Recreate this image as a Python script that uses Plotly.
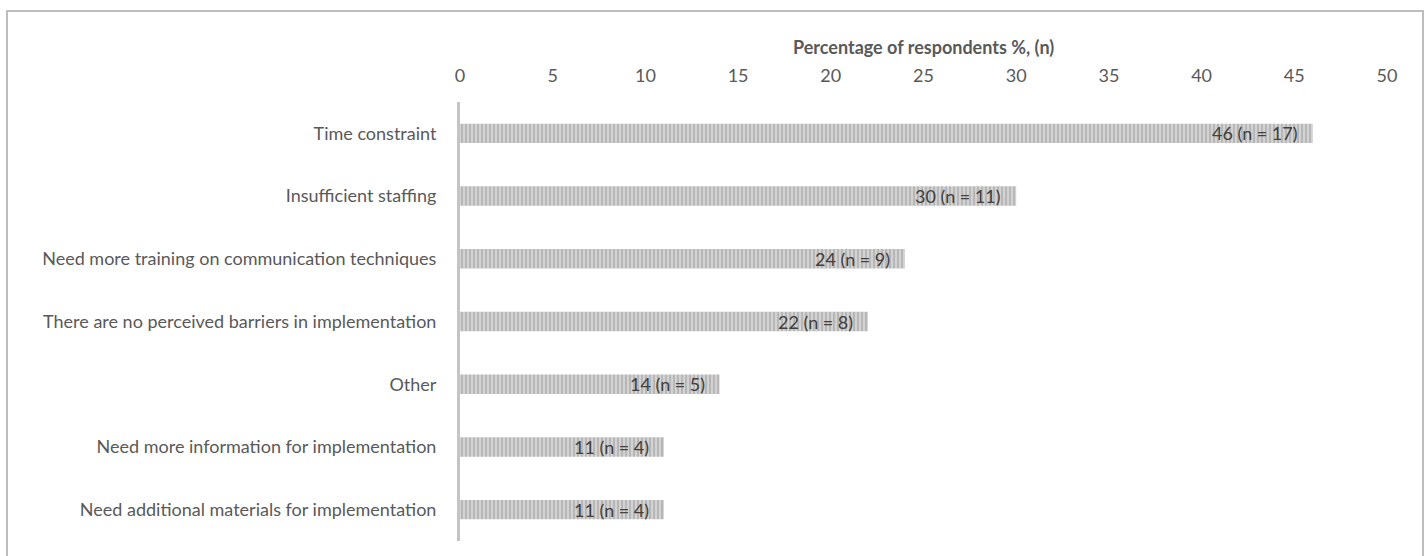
import plotly.graph_objects as go

categories = [
    "Time constraint",
    "Insufficient staffing",
    "Need more training on communication techniques",
    "There are no perceived barriers in implementation",
    "Other",
    "Need more information for implementation",
    "Need additional materials for implementation",
]
percent = [46, 30, 24, 22, 14, 11, 11]
counts = [17, 11, 9, 8, 5, 4, 4]
x_ticks = [0, 5, 10, 15, 20, 25, 30, 35, 40, 45, 50]

FONT = "Lato"
TXT = "#595959"
FS = 18

W, H = 1428, 556
L, R, T, B = 460, W - 1387, 102, H - 541

fig = go.Figure()
fig.add_trace(go.Bar(
    y=categories, x=percent, orientation="h", width=0.31,
    marker=dict(color="#d2d2d2", line=dict(width=0),
                pattern=dict(shape="|", size=4, solidity=0.4, fgcolor="#8e8e8e")),
    hoverinfo="skip",
))

annotations = []
for c, p, n in zip(categories, percent, counts):
    annotations.append(dict(
        x=p, y=c, xref="x", yref="y", text=f"{p} (n = {n})",
        showarrow=False, xanchor="right", xshift=-13,
        font=dict(family=FONT, size=FS, color="#404040"),
    ))
annotations.append(dict(
    x=0.5, y=(541 - 47) / (541 - 102), xref="paper", yref="paper",
    text="<b>Percentage of respondents %, (n)</b>", showarrow=False,
    xanchor="center", yanchor="middle",
    font=dict(family=FONT, size=FS, color=TXT),
))

pw = 1387 - 460
ph = 541 - 102
fig.add_shape(type="rect", xref="paper", yref="paper",
              x0=(7 - 460) / pw, x1=(1423 - 460) / pw,
              y0=(541 - 600) / ph, y1=(541 - 11) / ph,
              line=dict(color="#bdbdbd", width=2), fillcolor="rgba(0,0,0,0)", layer="below")

fig.update_layout(
    width=W, height=H,
    margin=dict(l=L, r=R, t=T, b=B),
    paper_bgcolor="white", plot_bgcolor="white",
    showlegend=False,
    annotations=annotations,
    font=dict(family=FONT, size=FS, color=TXT),
    xaxis=dict(side="top", range=[0, 50], tickvals=x_ticks, showgrid=False,
               zeroline=False, showline=False, ticks="outside", ticklen=12,
               tickcolor="rgba(0,0,0,0)", tickfont=dict(family=FONT, size=FS, color=TXT)),
    yaxis=dict(autorange="reversed", showgrid=False, zeroline=False,
               showline=True, linecolor="#c4c4c4", linewidth=3,
               ticks="", ticklabelstandoff=17,
               tickfont=dict(family=FONT, size=FS, color=TXT)),
)

fig.write_html("out.html")
